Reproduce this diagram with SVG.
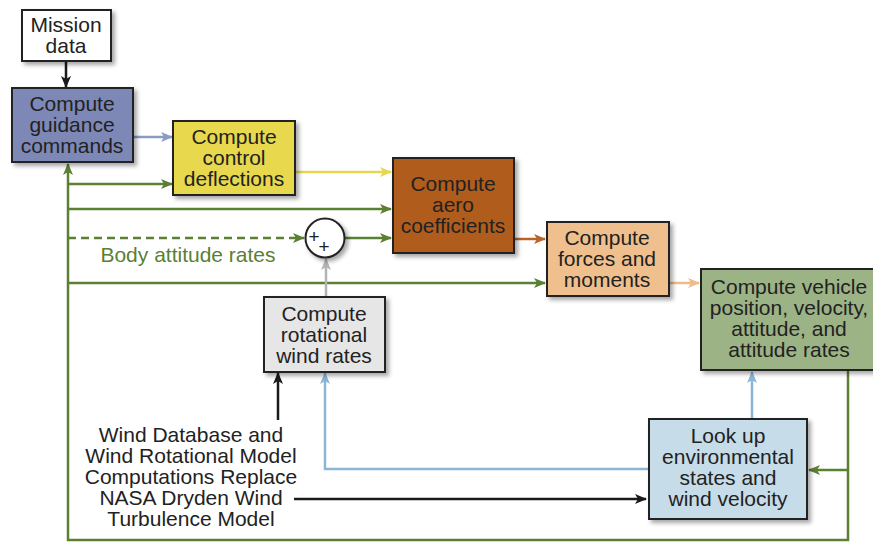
<svg xmlns="http://www.w3.org/2000/svg" width="873" height="542" viewBox="0 0 873 542">
  <defs>
    <filter id="shadow" x="-10%" y="-10%" width="130%" height="130%">
      <feDropShadow dx="3" dy="3" stdDeviation="2" flood-color="#000" flood-opacity="0.35"/>
    </filter>
    <marker id="ah-black" viewBox="0 0 12 10" refX="11" refY="5" markerWidth="12" markerHeight="10" markerUnits="userSpaceOnUse" orient="auto">
      <path d="M0,0 L12,5 L0,10 L3,5 Z" fill="#1a1a1a"/>
    </marker>
    <marker id="ah-green" viewBox="0 0 12 10" refX="11" refY="5" markerWidth="12" markerHeight="10" markerUnits="userSpaceOnUse" orient="auto">
      <path d="M0,0 L12,5 L0,10 L3,5 Z" fill="#5b7f33"/>
    </marker>
    <marker id="ah-slate" viewBox="0 0 12 10" refX="11" refY="5" markerWidth="12" markerHeight="10" markerUnits="userSpaceOnUse" orient="auto">
      <path d="M0,0 L12,5 L0,10 L3,5 Z" fill="#8c9ac6"/>
    </marker>
    <marker id="ah-yellow" viewBox="0 0 12 10" refX="11" refY="5" markerWidth="12" markerHeight="10" markerUnits="userSpaceOnUse" orient="auto">
      <path d="M0,0 L12,5 L0,10 L3,5 Z" fill="#e6d650"/>
    </marker>
    <marker id="ah-brown" viewBox="0 0 12 10" refX="11" refY="5" markerWidth="12" markerHeight="10" markerUnits="userSpaceOnUse" orient="auto">
      <path d="M0,0 L12,5 L0,10 L3,5 Z" fill="#b8642a"/>
    </marker>
    <marker id="ah-tan" viewBox="0 0 12 10" refX="11" refY="5" markerWidth="12" markerHeight="10" markerUnits="userSpaceOnUse" orient="auto">
      <path d="M0,0 L12,5 L0,10 L3,5 Z" fill="#efbb8a"/>
    </marker>
    <marker id="ah-blue" viewBox="0 0 12 10" refX="11" refY="5" markerWidth="12" markerHeight="10" markerUnits="userSpaceOnUse" orient="auto">
      <path d="M0,0 L12,5 L0,10 L3,5 Z" fill="#8ab6d6"/>
    </marker>
    <marker id="ah-grey" viewBox="0 0 12 10" refX="11" refY="5" markerWidth="12" markerHeight="10" markerUnits="userSpaceOnUse" orient="auto">
      <path d="M0,0 L12,5 L0,10 L3,5 Z" fill="#b3b3b3"/>
    </marker>
  </defs>
  <style>
    .box { stroke: #222; stroke-width: 2; filter: url(#shadow); }
    .lbl { font-family: "Liberation Sans", Arial, Helvetica, sans-serif; font-size: 21px; fill: #222; text-anchor: middle; }
    .note { font-family: "Liberation Sans", Arial, Helvetica, sans-serif; font-size: 21px; fill: #222; text-anchor: middle; }
    .green { stroke: #5b7f33; stroke-width: 2.5; fill: none; }
    .c { fill: none; stroke-width: 2.5; }
  </style>

  <rect width="873" height="542" fill="#fff"/>

  <!-- connectors -->
  <g id="connectors">
    <!-- mission data to guidance -->
    <line x1="66" y1="62" x2="66" y2="87" stroke="#1a1a1a" class="c" marker-end="url(#ah-black)"/>
    <!-- guidance to control -->
    <line x1="134" y1="137" x2="172" y2="137" stroke="#8c9ac6" class="c" marker-end="url(#ah-slate)"/>
    <!-- control to aero -->
    <line x1="296" y1="172" x2="391" y2="172" stroke="#e6d650" class="c" marker-end="url(#ah-yellow)"/>
    <!-- aero to forces -->
    <line x1="515" y1="239" x2="545" y2="239" stroke="#b8642a" class="c" marker-end="url(#ah-brown)"/>
    <!-- forces to vehicle -->
    <line x1="670" y1="283" x2="699" y2="283" stroke="#efbb8a" class="c" marker-end="url(#ah-tan)"/>

    <!-- state feedback bus -->
    <polyline points="848,371 848,540 68,540 68,164" class="green" marker-end="url(#ah-green)"/>
    <line x1="68" y1="184" x2="172" y2="184" class="green" marker-end="url(#ah-green)"/>
    <line x1="68" y1="209" x2="391" y2="209" class="green" marker-end="url(#ah-green)"/>
    <line x1="68" y1="238" x2="304" y2="238" class="green" stroke-dasharray="8,5" marker-end="url(#ah-green)"/>
    <line x1="345" y1="238" x2="391" y2="238" class="green" marker-end="url(#ah-green)"/>
    <line x1="68" y1="283" x2="545" y2="283" class="green" marker-end="url(#ah-green)"/>
    <line x1="848" y1="470" x2="809" y2="470" class="green" marker-end="url(#ah-green)"/>

    <!-- rotational wind rates to summing junction -->
    <line x1="326" y1="296" x2="326" y2="259" stroke="#b3b3b3" class="c" marker-end="url(#ah-grey)"/>
    <!-- environment to vehicle -->
    <line x1="752" y1="418" x2="752" y2="372" stroke="#8ab6d6" class="c" marker-end="url(#ah-blue)"/>
    <!-- environment to rotational wind rates -->
    <polyline points="648,469 325,469 325,373" stroke="#8ab6d6" class="c" marker-end="url(#ah-blue)"/>

    <!-- wind database notes -->
    <line x1="278" y1="420" x2="278" y2="373" stroke="#1a1a1a" class="c" marker-end="url(#ah-black)"/>
    <line x1="294" y1="499" x2="646" y2="499" stroke="#1a1a1a" class="c" marker-end="url(#ah-black)"/>
  </g>

  <!-- nodes -->
  <g id="mission-data">
    <rect x="22" y="10" width="89" height="51" fill="#fff" class="box"/>
    <text class="lbl" x="66" y="32">Mission</text>
    <text class="lbl" x="66" y="53">data</text>
  </g>

  <g id="guidance">
    <rect x="12" y="88" width="121" height="74" fill="#7d88b7" class="box"/>
    <text class="lbl" x="72" y="111">Compute</text>
    <text class="lbl" x="72" y="132">guidance</text>
    <text class="lbl" x="72" y="153">commands</text>
  </g>

  <g id="control">
    <rect x="173" y="121" width="122" height="74" fill="#e8d84e" class="box"/>
    <text class="lbl" x="234" y="144">Compute</text>
    <text class="lbl" x="234" y="165">control</text>
    <text class="lbl" x="234" y="186">deflections</text>
  </g>

  <g id="aero">
    <rect x="393" y="158" width="121" height="95" fill="#b05b1b" class="box"/>
    <text class="lbl" x="453" y="191">Compute</text>
    <text class="lbl" x="453" y="212">aero</text>
    <text class="lbl" x="453" y="233">coefficients</text>
  </g>

  <g id="sum">
    <circle cx="325" cy="238" r="19.5" fill="#fff" stroke="#222" stroke-width="2" filter="url(#shadow)"/>
    <text x="314" y="243" font-family="'Liberation Sans', Arial, sans-serif" font-size="19" fill="#222" text-anchor="middle">+</text>
    <text x="324" y="253" font-family="'Liberation Sans', Arial, sans-serif" font-size="19" fill="#222" text-anchor="middle">+</text>
  </g>

  <g id="body-rates-label">
    <text x="188" y="262" font-family="'Liberation Sans', Arial, Helvetica, sans-serif" font-size="21" fill="#5b7f33" text-anchor="middle">Body attitude rates</text>
  </g>

  <g id="forces">
    <rect x="547" y="222" width="122" height="74" fill="#efc08d" class="box"/>
    <text class="lbl" x="607" y="245">Compute</text>
    <text class="lbl" x="607" y="266">forces and</text>
    <text class="lbl" x="607" y="287">moments</text>
  </g>

  <g id="vehicle">
    <rect x="701" y="269" width="180" height="101" fill="#9cb386" class="box"/>
    <text class="lbl" x="789" y="294">Compute vehicle</text>
    <text class="lbl" x="789" y="315">position, velocity,</text>
    <text class="lbl" x="789" y="336">attitude, and</text>
    <text class="lbl" x="789" y="357">attitude rates</text>
  </g>

  <g id="rotational-wind">
    <rect x="264" y="297" width="121" height="75" fill="#e6e6e6" class="box"/>
    <text class="lbl" x="324" y="321">Compute</text>
    <text class="lbl" x="324" y="342">rotational</text>
    <text class="lbl" x="324" y="363">wind rates</text>
  </g>

  <g id="environment">
    <rect x="649" y="419" width="158" height="100" fill="#c6dce9" class="box"/>
    <text class="lbl" x="728" y="443">Look up</text>
    <text class="lbl" x="728" y="464">environmental</text>
    <text class="lbl" x="728" y="485">states and</text>
    <text class="lbl" x="728" y="506">wind velocity</text>
  </g>

  <g id="wind-note">
    <text class="note" x="191" y="442">Wind Database and</text>
    <text class="note" x="191" y="463">Wind Rotational Model</text>
    <text class="note" x="191" y="484">Computations Replace</text>
    <text class="note" x="191" y="505">NASA Dryden Wind</text>
    <text class="note" x="191" y="526">Turbulence Model</text>
  </g>
</svg>
